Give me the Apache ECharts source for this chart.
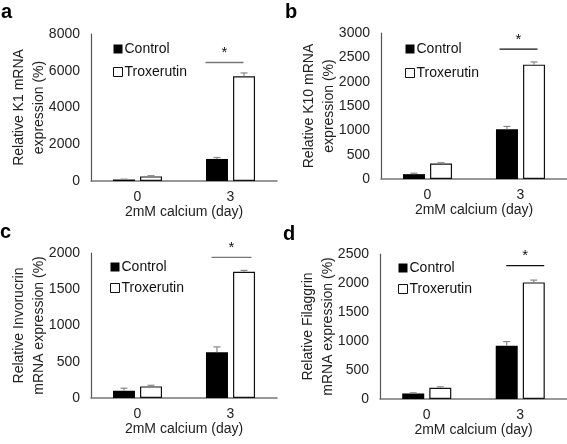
<!DOCTYPE html>
<html><head><meta charset="utf-8">
<script src="https://cdn.jsdelivr.net/npm/echarts@6/dist/echarts.min.js"></script>
<style>html,body{margin:0;padding:0;background:#fff}#c{width:567px;height:444px}</style>
</head><body><div id="c"></div>
<script>
// ---- data ----
const categories = ['0', '3'];
const seriesNames = ['Control', 'Troxerutin'];
const panelLetters = ['a', 'b', 'c', 'd'];
const yNames = ['Relative K1 mRNA\nexpression (%)', 'Relative K10 mRNA\nexpression (%)', 'Relative Invorucrin\nmRNA expression (%)', 'Relative Filaggrin\nmRNA expression (%)'];
const xName = '2mM calcium (day)';
const yMax = [8000, 3000, 2000, 2500];
const yInterval = [2000, 500, 500, 500];
const controlA = [80, 1200], controlErrA = [20, 80];
const troxA = [250, 5700], troxErrA = [40, 180];
const controlB = [100, 1020], controlErrB = [20, 60];
const troxB = [320, 2350], troxErrB = [15, 55];
const controlC = [100, 630], controlErrC = [35, 75];
const troxC = [160, 1740], troxErrC = [15, 20];
const controlD = [95, 920], controlErrD = [12, 70];
const troxD = [195, 2010], troxErrD = [15, 40];
const sigLevel = [6450, 2670, 1940, 2300];

// ---- layout / style ----
const FONT = '"Liberation Sans", Arial, sans-serif';
const grids = [
  {left: 91, top: 34, width: 186, height: 147},
  {left: 381, top: 33, width: 186, height: 146},
  {left: 91, top: 253, width: 186, height: 145},
  {left: 380, top: 254, width: 187, height: 145}
];
const legends = [
  {left: 113, top: 42, gap: 9},
  {left: 405, top: 42, gap: 10},
  {left: 110, top: 260, gap: 7},
  {left: 398, top: 261, gap: 7}
];
const sigOffsets = [[-25, 13, '#777'], [-21, 17, '#111'], [-19, 21, '#777'], [-14, 24, '#111']];
const letterPos = [[1, 2], [285, 2], [0, 222], [283, 224]];

const controls = [controlA, controlB, controlC, controlD];
const controlErrs = [controlErrA, controlErrB, controlErrC, controlErrD];
const troxs = [troxA, troxB, troxC, troxD];
const troxErrs = [troxErrA, troxErrB, troxErrC, troxErrD];

const BAR_W = 22, GAP = 0.23;
const HALF = (BAR_W * (1 + GAP)) / 2;

function errRender(offset) {
  return function (params, api) {
    const cat = api.value(0), v = api.value(1), e = api.value(2);
    const p0 = api.coord([cat, v]);
    const p1 = api.coord([cat, v + e]);
    const x = p0[0] + offset;
    const st = {stroke: '#888', lineWidth: 1.2};
    return {type: 'group', children: [
      {type: 'line', shape: {x1: x, y1: p0[1], x2: x, y2: p1[1]}, style: st},
      {type: 'line', shape: {x1: x - 3.5, y1: p1[1], x2: x + 3.5, y2: p1[1]}, style: st}
    ]};
  };
}
function sigRender(i) {
  return function (params, api) {
    const p = api.coord([api.value(0), api.value(1)]);
    const o = sigOffsets[i];
    const x1 = p[0] + o[0], x2 = p[0] + o[1];
    return {type: 'group', children: [
      {type: 'line', shape: {x1: x1, y1: p[1], x2: x2, y2: p[1]}, style: {stroke: o[2], lineWidth: 1.3}},
      {type: 'text', style: {text: '*', x: (x1 + x2) / 2, y: p[1] - 2, align: 'center', verticalAlign: 'bottom', font: '15px ' + FONT, fill: '#111'}}
    ]};
  };
}

const option = {
  animation: false,
  backgroundColor: '#fff',
  textStyle: {fontFamily: FONT},
  grid: grids.map(g => Object.assign({containLabel: false}, g)),
  legend: legends.map(l => ({
    orient: 'vertical', left: l.left, top: l.top, itemGap: l.gap, padding: 0,
    itemWidth: 9, itemHeight: 9, icon: 'rect', selectedMode: false,
    textStyle: {fontSize: 14, color: '#111', fontFamily: FONT, lineHeight: 14, padding: [0, 0, 0, -3]},
    data: [
      {name: seriesNames[0], itemStyle: {color: '#000', borderWidth: 0}},
      {name: seriesNames[1], itemStyle: {color: '#fff', borderColor: '#111', borderWidth: 1}}
    ]
  })),
  xAxis: grids.map((g, i) => ({
    type: 'category', gridIndex: i, data: categories,
    axisLine: {lineStyle: {color: '#777', width: 1.5}},
    axisTick: {show: false},
    axisLabel: {margin: 9, fontSize: 14, color: '#222', fontFamily: FONT},
    name: xName, nameLocation: 'middle', nameGap: 24, nameMoveOverlap: false,
    nameTextStyle: {fontSize: 14, color: '#222', fontFamily: FONT}
  })),
  yAxis: grids.map((g, i) => ({
    type: 'value', gridIndex: i, min: 0, max: yMax[i], interval: yInterval[i],
    axisLine: {show: true, lineStyle: {color: '#555', width: 1.2}},
    axisTick: {show: false}, splitLine: {show: false},
    axisLabel: {margin: 11, fontSize: 14, color: '#222', fontFamily: FONT, formatter: v => String(v)},
    name: yNames[i], nameLocation: 'middle', nameGap: 42, nameMoveOverlap: false,
    nameTextStyle: {fontSize: 14, color: '#222', lineHeight: 20, fontFamily: FONT}
  })),
  graphic: panelLetters.map((t, i) => ({
    type: 'text', left: letterPos[i][0], top: letterPos[i][1],
    style: {text: t, font: 'bold 20px ' + FONT, fill: '#000'}
  })),
  series: []
};

for (let i = 0; i < 4; i++) {
  option.series.push({
    type: 'bar', name: seriesNames[0], xAxisIndex: i, yAxisIndex: i,
    data: controls[i], barWidth: BAR_W, barGap: (GAP * 100) + '%',
    itemStyle: {color: '#000'}
  });
  option.series.push({
    type: 'bar', name: seriesNames[1], xAxisIndex: i, yAxisIndex: i,
    data: troxs[i], barWidth: BAR_W, barGap: (GAP * 100) + '%',
    itemStyle: {color: '#fff', borderColor: '#111', borderWidth: 1.2}
  });
  option.series.push({
    type: 'custom', xAxisIndex: i, yAxisIndex: i, z: 5,
    renderItem: errRender(-HALF),
    data: controls[i].map((v, k) => [k, v, controlErrs[i][k]])
  });
  option.series.push({
    type: 'custom', xAxisIndex: i, yAxisIndex: i, z: 5,
    renderItem: errRender(HALF),
    data: troxs[i].map((v, k) => [k, v, troxErrs[i][k]])
  });
  option.series.push({
    type: 'custom', xAxisIndex: i, yAxisIndex: i, z: 5,
    renderItem: sigRender(i),
    data: [[1, sigLevel[i]]]
  });
}

const chart = echarts.init(document.getElementById('c'), null, {renderer: 'canvas'});
chart.setOption(option);
</script></body></html>
